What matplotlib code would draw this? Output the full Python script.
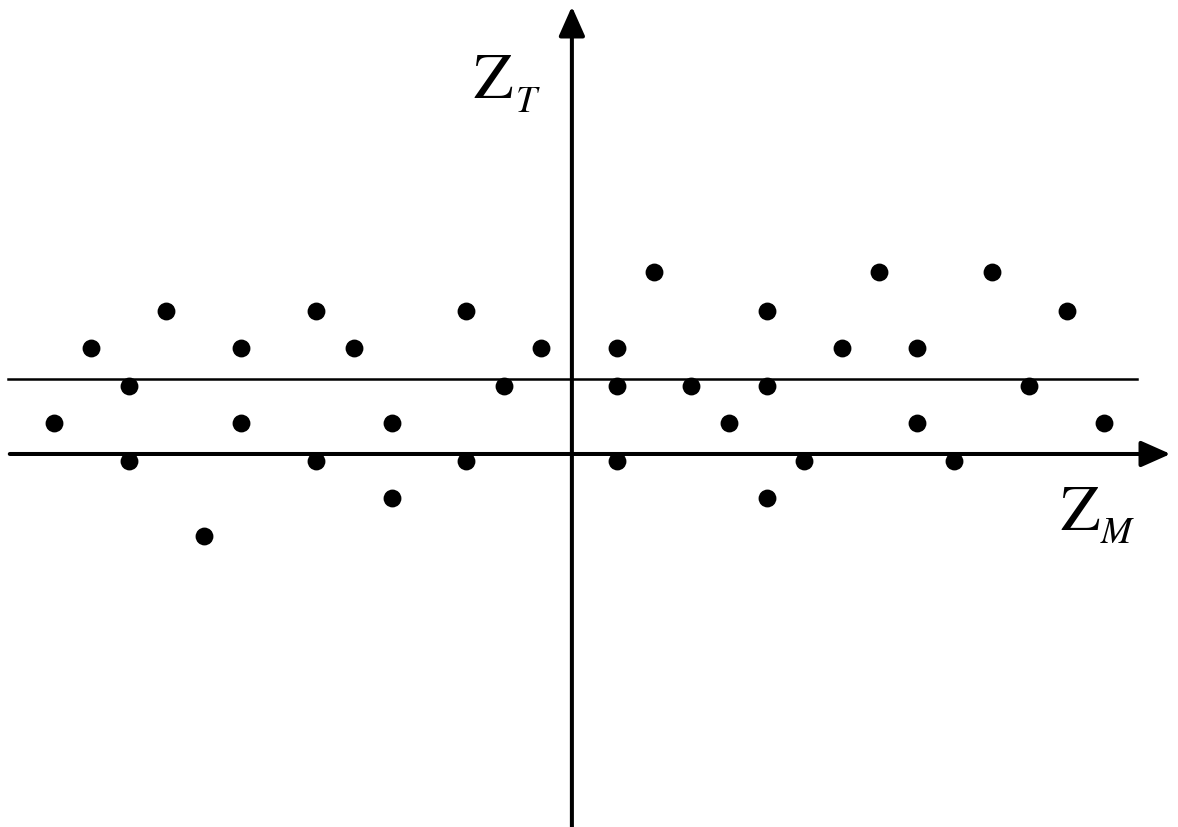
import matplotlib
matplotlib.use("Agg")
import matplotlib.pyplot as plt

# ────────────────────────────────────────────────────────────────
# DATA (grid units, origin at the axis crossing)
# ────────────────────────────────────────────────────────────────
dots_x = [
    -13.78, -12.79, -11.78, -11.78, -10.80, -9.79, -8.80, -8.80,
    -6.81, -6.81, -5.80, -4.79, -4.79, -2.82, -2.82, -1.81, -0.82,
    1.20, 1.20, 1.20, 2.18, 3.16, 4.18, 5.19, 5.19, 5.19, 6.17,
    7.18, 8.16, 9.18, 9.18, 10.16, 11.17, 12.15, 13.16, 14.15,
]
dots_y = [
    0.82, 2.82, 1.81, -0.19, 3.80, -2.18, 2.82, 0.82,
    3.80, -0.19, 2.82, 0.82, -1.17, 3.80, -0.19, 1.81, 2.82,
    2.82, 1.81, -0.19, 4.84, 1.81, 0.82, 3.80, 1.81, -1.17, -0.19,
    2.82, 4.84, 2.82, 0.82, -0.19, 4.84, 1.81, 3.80, 0.82,
]
band_level = 2.0

# ────────────────────────────────────────────────────────────────
# PLOT
# ────────────────────────────────────────────────────────────────
plt.rcParams['mathtext.fontset'] = 'stix'

fig = plt.figure(figsize=(11.78, 8.28), dpi=100)
ax = fig.add_axes([0, 0, 1, 1])
ax.set_xlim(-15.21, 16.12)
ax.set_ylim(-9.92, 12.10)
ax.axis('off')

# upper horizontal line
ax.plot([-15.0, 15.03], [band_level, band_level], color='black', lw=1.8)

# axes with arrowheads
arrow = dict(arrowstyle='-|>,head_length=1.8,head_width=0.8', color='black',
             lw=2.9, shrinkA=0, shrinkB=0, mutation_scale=10)
ax.annotate('', xy=(15.92, 0), xytext=(-14.95, 0), arrowprops=arrow)
ax.annotate('', xy=(0, 11.9), xytext=(0, -9.92), arrowprops=arrow)

ax.scatter(dots_x, dots_y, s=165, color='black', zorder=3, linewidths=0)

# axis labels: big upright Z with a lowered italic subscript
ax.text(-2.63, 9.49, r'$\mathrm{Z}$', fontsize=46, ha='left', va='baseline')
ax.text(-1.52, 9.12, r'$T$', fontsize=27, ha='left', va='baseline')
ax.text(12.98, -1.99, r'$\mathrm{Z}$', fontsize=46, ha='left', va='baseline')
ax.text(14.05, -2.34, r'$M$', fontsize=27, ha='left', va='baseline')

plt.savefig('out.png', dpi=100)
plt.close()
